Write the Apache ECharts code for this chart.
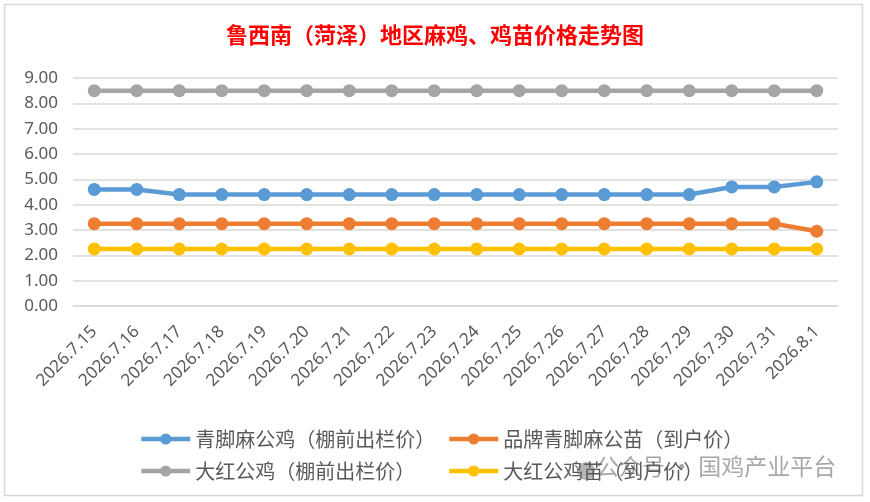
<!DOCTYPE html>
<html>
<head>
<meta charset="utf-8">
<script src="https://cdn.jsdelivr.net/npm/echarts@6/dist/echarts.min.js"></script>
<style>
  html, body { margin: 0; padding: 0; background: #fff; }
  #chart { width: 870px; height: 502px; }
</style>
</head>
<body>
<div id="chart"></div>
<script>
// 日期
const dates = [
  '2026.7.15', '2026.7.16', '2026.7.17', '2026.7.18', '2026.7.19', '2026.7.20',
  '2026.7.21', '2026.7.22', '2026.7.23', '2026.7.24', '2026.7.25', '2026.7.26',
  '2026.7.27', '2026.7.28', '2026.7.29', '2026.7.30', '2026.7.31', '2026.8.1'
]
// 青脚麻公鸡（棚前出栏价）
const qingjiaoRooster = [4.6, 4.6, 4.4, 4.4, 4.4, 4.4, 4.4, 4.4, 4.4, 4.4, 4.4, 4.4, 4.4, 4.4, 4.4, 4.7, 4.7, 4.9]
// 品牌青脚麻公苗（到户价）
const qingjiaoChick = [3.25, 3.25, 3.25, 3.25, 3.25, 3.25, 3.25, 3.25, 3.25, 3.25, 3.25, 3.25, 3.25, 3.25, 3.25, 3.25, 3.25, 2.95]
// 大红公鸡（棚前出栏价）
const redRooster = [8.5, 8.5, 8.5, 8.5, 8.5, 8.5, 8.5, 8.5, 8.5, 8.5, 8.5, 8.5, 8.5, 8.5, 8.5, 8.5, 8.5, 8.5]
// 大红公鸡苗（到户价）
const redChick = [2.25, 2.25, 2.25, 2.25, 2.25, 2.25, 2.25, 2.25, 2.25, 2.25, 2.25, 2.25, 2.25, 2.25, 2.25, 2.25, 2.25, 2.25]

const names = ['青脚麻公鸡（棚前出栏价）', '品牌青脚麻公苗（到户价）', '大红公鸡（棚前出栏价）', '大红公鸡苗（到户价）']
const colors = ['#5B9BD5', '#ED7D31', '#A5A5A5', '#FFC000']
const values = [qingjiaoRooster, qingjiaoChick, redRooster, redChick]

const font = '"Noto Sans", "Noto Sans CJK SC", sans-serif'

const chart = echarts.init(document.getElementById('chart'))

const legendBase = {
  orient: 'vertical',
  top: 423,
  itemWidth: 49,
  itemHeight: 14,
  itemGap: 10,
  lineStyle: { width: 4.5 },
  textStyle: { color: '#595959', fontSize: 20, lineHeight: 22, fontFamily: '"Noto Sans CJK SC", sans-serif' }
}

const option = {
  backgroundColor: '#fff',
  animation: false,
  title: {
    text: '鲁西南（菏泽）地区麻鸡、鸡苗价格走势图',
    left: 'center',
    top: 19,
    textStyle: { color: '#FF0000', fontSize: 22, fontWeight: 'bold', fontFamily: '"Noto Sans CJK SC", sans-serif' }
  },
  legend: [
    Object.assign({ left: 134, data: [names[0], names[2]] }, legendBase),
    Object.assign({ left: 442, data: [names[1], names[3]] }, legendBase)
  ],
  grid: { left: 73, right: 32, top: 78, bottom: 196 },
  xAxis: {
    type: 'category',
    data: dates,
    axisLine: { lineStyle: { color: '#D9D9D9', width: 1.5 } },
    axisTick: { show: false },
    axisLabel: { rotate: 45, color: '#595959', fontSize: 17, fontFamily: font, margin: 23, interval: 0 }
  },
  yAxis: {
    type: 'value',
    min: 0,
    max: 9,
    interval: 1,
    axisLine: { show: false },
    axisTick: { show: false },
    axisLabel: { color: '#595959', fontSize: 17, fontFamily: font, margin: 15, formatter: v => v.toFixed(2) },
    splitLine: { lineStyle: { color: '#D9D9D9', width: 1.5 } }
  },
  series: names.map((n, i) => ({
    name: n,
    type: 'line',
    data: values[i],
    symbol: 'circle',
    symbolSize: 13,
    color: colors[i],
    lineStyle: { width: 4.5, color: colors[i] },
    itemStyle: { color: colors[i] }
  })),
  graphic: [
    {
      type: 'rect',
      shape: { x: 4.5, y: 4.5, width: 858, height: 491 },
      style: { fill: 'none', stroke: '#D9D9D9', lineWidth: 1.5 },
      silent: true
    },
    {
      type: 'circle',
      shape: { cx: 586, cy: 471, r: 9 },
      style: { fill: 'rgba(120,120,120,0.55)' },
      silent: true
    },
    {
      type: 'text',
      left: 596,
      top: 455,
      style: {
        text: '公众号 · 国鸡产业平台',
        fill: 'rgba(130,130,130,0.7)',
        fontSize: 23,
        fontFamily: '"Noto Sans CJK SC", sans-serif'
      },
      silent: true
    }
  ]
}

chart.setOption(option)
</script>
</body>
</html>
